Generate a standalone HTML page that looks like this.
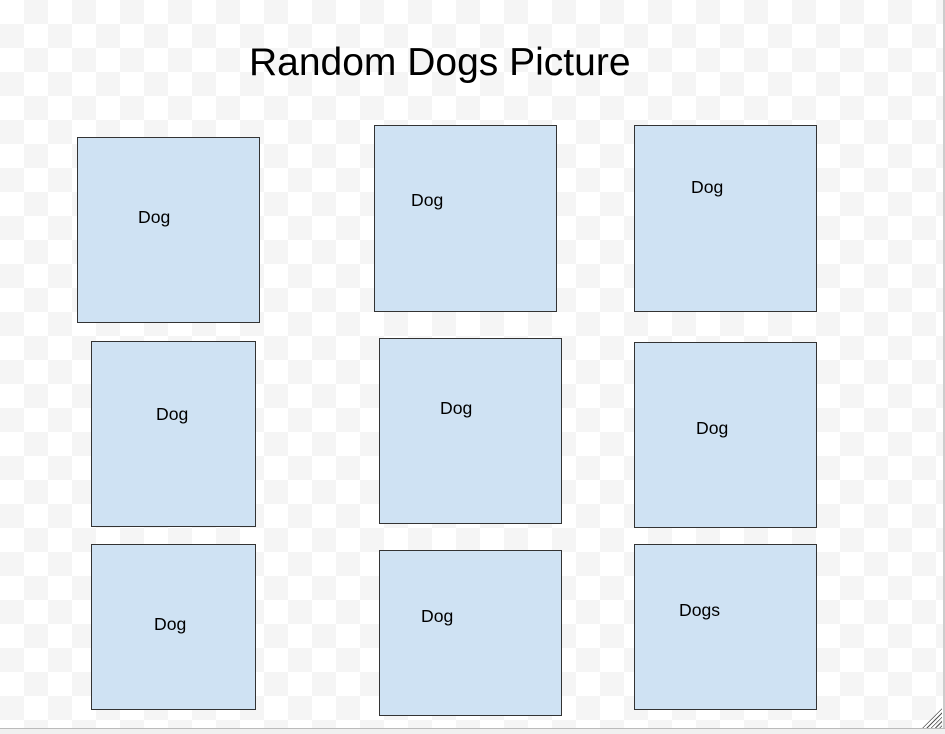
<!DOCTYPE html>
<html><head><meta charset="utf-8"><style>
html,body{margin:0;padding:0}
body{width:945px;height:733px;position:relative;overflow:hidden;font-family:"Liberation Sans",Arial,sans-serif;
background-color:#fff;
background-image:conic-gradient(#f5f5f5 25%,#fff 0 50%,#f5f5f5 0 75%,#fff 0);
background-size:48px 48px;}
.box{position:absolute;background:#cfe2f3;border:1px solid #333;box-sizing:border-box}
.lbl{position:absolute;font-size:17.6px;color:#000;line-height:1}
#title{position:absolute;left:249px;top:43px;font-size:39px;line-height:1;white-space:nowrap;color:#000}
#frame-bottom{position:absolute;left:0;top:728px;width:945px;height:5px;background:#f0f0f0;border-top:1px solid #bbb}
#frame-right{position:absolute;left:943px;top:0;width:2px;height:729px;background:#ccc}
#grip{position:absolute;left:920px;top:706px;width:22px;height:22px;background:repeating-linear-gradient(135deg,transparent 0 2px,#555 2px 3px);clip-path:polygon(100% 0,100% 100%,0 100%)}
</style></head><body>
<div id="title">Random Dogs Picture</div>

<div class="box" style="left:77px;top:137px;width:183px;height:186px"></div>
<div class="lbl" style="left:138px;top:209px">Dog</div>

<div class="box" style="left:374px;top:125px;width:183px;height:187px"></div>
<div class="lbl" style="left:411px;top:192px">Dog</div>

<div class="box" style="left:634px;top:125px;width:183px;height:187px"></div>
<div class="lbl" style="left:691px;top:179px">Dog</div>

<div class="box" style="left:91px;top:341px;width:165px;height:186px"></div>
<div class="lbl" style="left:156px;top:406px">Dog</div>

<div class="box" style="left:379px;top:338px;width:183px;height:186px"></div>
<div class="lbl" style="left:440px;top:400px">Dog</div>

<div class="box" style="left:634px;top:342px;width:183px;height:186px"></div>
<div class="lbl" style="left:696px;top:420px">Dog</div>

<div class="box" style="left:91px;top:544px;width:165px;height:166px"></div>
<div class="lbl" style="left:154px;top:616px">Dog</div>

<div class="box" style="left:379px;top:550px;width:183px;height:166px"></div>
<div class="lbl" style="left:421px;top:608px">Dog</div>

<div class="box" style="left:634px;top:544px;width:183px;height:166px"></div>
<div class="lbl" style="left:679px;top:602px">Dogs</div>

<div id="frame-right"></div>
<div id="frame-bottom"></div>
<div id="grip"></div>
</body></html>
